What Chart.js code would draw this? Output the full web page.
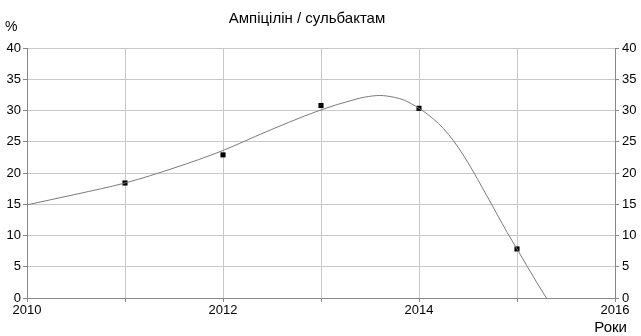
<!DOCTYPE html>
<html>
<head>
<meta charset="utf-8">
<script src="https://cdn.jsdelivr.net/npm/chart.js@4/dist/chart.umd.min.js"></script>
<style>
html,body{margin:0;padding:0;background:#fff;}
#wrap{width:641px;height:336px;position:relative;}
</style>
</head>
<body>
<div id="wrap"><canvas id="c" width="641" height="336"></canvas></div>
<script>
const title = "Ампіцілін / сульбактам";
const yAxisLabel = "%";
const xAxisLabel = "Роки";
const years = [2011, 2012, 2013, 2014, 2015];
const values = [18.4, 22.9, 30.8, 30.35, 7.85];
const trendX = [2010, 2010.5, 2011, 2011.5, 2012, 2012.33, 2012.67, 2013, 2013.33, 2013.45, 2013.6, 2013.75, 2013.85, 2014, 2014.1, 2014.2, 2014.3, 2014.4, 2014.5, 2014.6, 2014.7, 2014.8, 2014.9, 2015, 2015.1, 2015.2, 2015.3];
const trendY = [14.9, 16.6, 18.4, 20.8, 23.6, 25.85, 28.1, 30.1, 31.7, 32.15, 32.4, 32.1, 31.65, 30.35, 29.25, 27.9, 26.2, 24.1, 21.65, 18.95, 16.15, 13.3, 10.5, 7.85, 5.17, 2.53, 0];
const xMin = 2010, xMax = 2016, xStep = 1;
const yMin = 0, yMax = 40, yStep = 5;

const FONT = "'Liberation Sans', Arial, sans-serif";

const textPlugin = {
  id: 'texts',
  afterDraw(chart) {
    const ctx = chart.ctx;
    ctx.save();
    ctx.fillStyle = '#000';
    ctx.textBaseline = 'middle';
    ctx.font = '15px ' + FONT;
    ctx.textAlign = 'center';
    ctx.fillText(title, 307, 19);
    ctx.textAlign = 'left';
    ctx.font = '14px ' + FONT;
    ctx.fillText(yAxisLabel, 5, 27);
    ctx.font = '15px ' + FONT;
    ctx.textAlign = 'right';
    ctx.fillText(xAxisLabel, 627, 328);
    ctx.restore();
  }
};

const tickFont = {family: FONT, size: 13};

new Chart(document.getElementById('c'), {
  type: 'scatter',
  data: {
    datasets: [
      {
        data: trendX.map((x, i) => ({x: x, y: trendY[i]})),
        showLine: true,
        borderColor: '#7a7a7a',
        borderWidth: 1,
        pointRadius: 0,
        cubicInterpolationMode: 'monotone',
        fill: false
      },
      {
        data: years.map((x, i) => ({x: x, y: values[i]})),
        showLine: false,
        pointStyle: 'rect',
        pointRadius: 3.6,
        pointBorderWidth: 0,
        backgroundColor: '#000',
        borderColor: '#000'
      }
    ]
  },
  plugins: [textPlugin],
  options: {
    responsive: false,
    animation: false,
    devicePixelRatio: 1,
    layout: {padding: {top: 48, left: 0, right: 0, bottom: 0}},
    plugins: {legend: {display: false}, tooltip: {enabled: false}, title: {display: false}},
    scales: {
      x: {
        type: 'linear',
        min: xMin, max: xMax,
        afterFit(s) { s.height = 38; },
        ticks: {
          stepSize: xStep,
          autoSkip: false,
          maxRotation: 0,
          padding: 1,
          color: '#000',
          font: tickFont,
          callback: v => (v % 2 === 0 ? String(v) : '')
        },
        grid: {color: '#c8c8c8', tickColor: '#888', tickLength: 4, lineWidth: 1},
        border: {color: '#888', width: 1}
      },
      y: {
        position: 'left',
        min: yMin, max: yMax,
        afterFit(s) { s.width = 27; },
        ticks: {stepSize: yStep, color: '#000', font: tickFont, padding: 2},
        grid: {color: '#c8c8c8', tickColor: '#888', tickLength: 4},
        border: {color: '#888', width: 1}
      },
      y2: {
        position: 'right',
        min: yMin, max: yMax,
        afterFit(s) { s.width = 26; },
        ticks: {stepSize: yStep, color: '#000', font: tickFont, padding: 3},
        grid: {drawOnChartArea: false, tickColor: '#888', tickLength: 4},
        border: {color: '#888', width: 1}
      }
    }
  }
});
</script>
</body>
</html>
